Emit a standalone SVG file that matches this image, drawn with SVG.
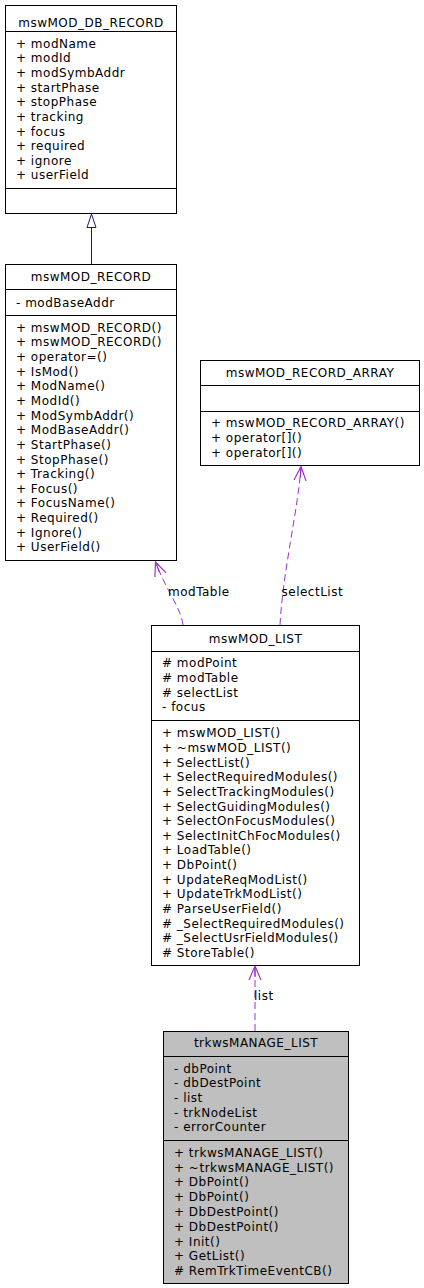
<svg xmlns="http://www.w3.org/2000/svg" width="424" height="1288" viewBox="0 0 424 1288">
<style>
text{font-family:"DejaVu Sans","Liberation Sans",sans-serif;font-size:12px;letter-spacing:0.5px;fill:#000}
.t{text-anchor:middle}
.box{fill:#fff;stroke:#000;stroke-width:1}
.gray{fill:#bfbfbf}
.div{stroke:#000;stroke-width:1}
.dep{fill:none;stroke:#9a32cd;stroke-width:1;stroke-dasharray:7,4}
.inh{fill:none;stroke:#191970;stroke-width:1}
</style>
<defs>
<marker id="vee" markerUnits="userSpaceOnUse" markerWidth="16" markerHeight="14" refX="14" refY="7" orient="auto">
<path d="M0,1 L14,7 L0,13 M3,7 L14,7" fill="none" stroke="#9a32cd" stroke-width="1.2"/>
</marker>
</defs>
<g id="connectors">
<line class="inh" x1="91.5" y1="264" x2="91.5" y2="227.5"/>
<polygon class="inh" points="91.5,214 87,227.5 96,227.5" fill="#fff"/>
<path class="dep" d="M183,625 C181,608 167,592 155.5,562" marker-end="url(#vee)"/>
<text x="168" y="596">modTable</text>
<path class="dep" d="M280,625 C283,570 298,510 301,466.5" marker-end="url(#vee)"/>
<text x="281.5" y="596">selectList</text>
<path class="dep" d="M255,1031 L255,966" marker-end="url(#vee)"/>
<text x="254" y="1000">list</text>
</g>
<g id="mswMOD_DB_RECORD">
<rect class="box" x="5.5" y="5.5" width="171" height="208"/>
<line class="div" x1="5.5" y1="31.5" x2="176.5" y2="31.5"/>
<line class="div" x1="5.5" y1="188.5" x2="176.5" y2="188.5"/>
<text class="t" x="91" y="27">mswMOD_DB_RECORD</text>
<text x="16" y="47.7">+ modName</text>
<text x="16" y="62.3">+ modId</text>
<text x="16" y="77">+ modSymbAddr</text>
<text x="16" y="91.6">+ startPhase</text>
<text x="16" y="106.2">+ stopPhase</text>
<text x="16" y="120.9">+ tracking</text>
<text x="16" y="135.5">+ focus</text>
<text x="16" y="150.1">+ required</text>
<text x="16" y="164.7">+ ignore</text>
<text x="16" y="179.4">+ userField</text>
</g>
<g id="mswMOD_RECORD">
<rect class="box" x="5.5" y="264.5" width="171" height="296"/>
<line class="div" x1="5.5" y1="289.5" x2="176.5" y2="289.5"/>
<line class="div" x1="5.5" y1="315.5" x2="176.5" y2="315.5"/>
<text class="t" x="91" y="280.5">mswMOD_RECORD</text>
<text x="16" y="306.7">- modBaseAddr</text>
<text x="16" y="331.7">+ mswMOD_RECORD()</text>
<text x="16" y="346.3">+ mswMOD_RECORD()</text>
<text x="16" y="361">+ operator=()</text>
<text x="16" y="375.6">+ IsMod()</text>
<text x="16" y="390.3">+ ModName()</text>
<text x="16" y="404.9">+ ModId()</text>
<text x="16" y="419.5">+ ModSymbAddr()</text>
<text x="16" y="434.2">+ ModBaseAddr()</text>
<text x="16" y="448.8">+ StartPhase()</text>
<text x="16" y="463.5">+ StopPhase()</text>
<text x="16" y="478.1">+ Tracking()</text>
<text x="16" y="492.7">+ Focus()</text>
<text x="16" y="507.4">+ FocusName()</text>
<text x="16" y="522">+ Required()</text>
<text x="16" y="536.7">+ Ignore()</text>
<text x="16" y="551.3">+ UserField()</text>
</g>
<g id="mswMOD_RECORD_ARRAY">
<rect class="box" x="200.5" y="360.5" width="219" height="105"/>
<line class="div" x1="200.5" y1="385.5" x2="419.5" y2="385.5"/>
<line class="div" x1="200.5" y1="411.5" x2="419.5" y2="411.5"/>
<text class="t" x="310" y="376.7">mswMOD_RECORD_ARRAY</text>
<text x="211" y="427.3">+ mswMOD_RECORD_ARRAY()</text>
<text x="211" y="442">+ operator[]()</text>
<text x="211" y="456.7">+ operator[]()</text>
</g>
<g id="mswMOD_LIST">
<rect class="box" x="151.5" y="625.5" width="208" height="340"/>
<line class="div" x1="151.5" y1="651.5" x2="359.5" y2="651.5"/>
<line class="div" x1="151.5" y1="720.5" x2="359.5" y2="720.5"/>
<text class="t" x="255.5" y="643.3">mswMOD_LIST</text>
<text x="162" y="667.3"># modPoint</text>
<text x="162" y="682"># modTable</text>
<text x="162" y="696.6"># selectList</text>
<text x="162" y="711.3">- focus</text>
<text x="162" y="737.3">+ mswMOD_LIST()</text>
<text x="162" y="751.9">+ ~mswMOD_LIST()</text>
<text x="162" y="766.6">+ SelectList()</text>
<text x="162" y="781.2">+ SelectRequiredModules()</text>
<text x="162" y="795.8">+ SelectTrackingModules()</text>
<text x="162" y="810.5">+ SelectGuidingModules()</text>
<text x="162" y="825.1">+ SelectOnFocusModules()</text>
<text x="162" y="839.7">+ SelectInitChFocModules()</text>
<text x="162" y="854.3">+ LoadTable()</text>
<text x="162" y="869">+ DbPoint()</text>
<text x="162" y="883.6">+ UpdateReqModList()</text>
<text x="162" y="898.2">+ UpdateTrkModList()</text>
<text x="162" y="912.9"># ParseUserField()</text>
<text x="162" y="927.5"># _SelectRequiredModules()</text>
<text x="162" y="942.1"># _SelectUsrFieldModules()</text>
<text x="162" y="956.8"># StoreTable()</text>
</g>
<g id="trkwsMANAGE_LIST">
<rect class="box gray" x="163.5" y="1031.5" width="185" height="252"/>
<line class="div" x1="163.5" y1="1056.5" x2="348.5" y2="1056.5"/>
<line class="div" x1="163.5" y1="1140.5" x2="348.5" y2="1140.5"/>
<text class="t" x="256" y="1047.3">trkwsMANAGE_LIST</text>
<text x="174" y="1072.7">- dbPoint</text>
<text x="174" y="1087.3">- dbDestPoint</text>
<text x="174" y="1102">- list</text>
<text x="174" y="1116.6">- trkNodeList</text>
<text x="174" y="1131.3">- errorCounter</text>
<text x="174" y="1156.7">+ trkwsMANAGE_LIST()</text>
<text x="174" y="1171.5">+ ~trkwsMANAGE_LIST()</text>
<text x="174" y="1186.3">+ DbPoint()</text>
<text x="174" y="1201.1">+ DbPoint()</text>
<text x="174" y="1215.9">+ DbDestPoint()</text>
<text x="174" y="1230.7">+ DbDestPoint()</text>
<text x="174" y="1245.5">+ Init()</text>
<text x="174" y="1260.3">+ GetList()</text>
<text x="174" y="1275.1"># RemTrkTimeEventCB()</text>
</g>
</svg>
